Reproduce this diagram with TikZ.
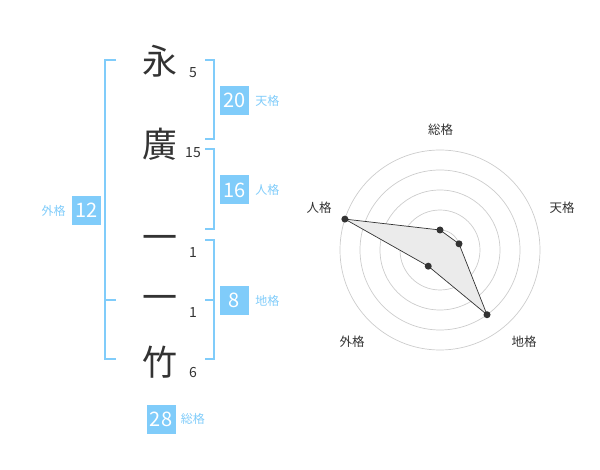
\documentclass[tikz,border=0pt]{standalone}
\usepackage{fontspec}
\setmainfont{Noto Sans CJK JP}
\usepackage{tikz}
\usetikzlibrary{positioning,calc}
\definecolor{kakublue}{RGB}{128,204,250}
\definecolor{inkgray}{RGB}{51,51,51}
\tikzstyle{kanji}=[text=inkgray, font=\fontsize{35}{35}\selectfont, inner sep=0pt]
\tikzstyle{strokes}=[text=inkgray, font=\fontsize{14}{14}\selectfont, inner sep=0pt]
\tikzstyle{kakubox}=[fill=kakublue, text=white, minimum size=29pt, inner sep=0pt, font=\fontsize{20}{20}\selectfont]
\tikzstyle{kakuname}=[text=kakublue, font=\fontsize{12}{12}\selectfont, inner sep=0pt]
\tikzstyle{bracket}=[kakublue, line width=2pt]
\tikzstyle{ring}=[black!20, line width=0.7pt]
\tikzstyle{axisname}=[text=inkgray, font=\fontsize{12.5}{12.5}\selectfont, inner sep=0pt]
\tikzstyle{dot}=[circle, fill=inkgray, minimum size=7pt, inner sep=0pt]

\begin{document}
\begin{tikzpicture}[x=1pt, y=-1pt]
\useasboundingbox (0,0) rectangle (600,470);

% name characters and stroke counts
        \node[kanji] (c1) at (160,61) {永};
        \node[kanji] (c2) at (160,144) {廣};
        \node[kanji] (c3) at (160,243) {一};
        \node[kanji] (c4) at (160,303) {一};
        \node[kanji] (c5) at (160,362) {竹};
        \node[strokes] (s1) at (193,73) {5};
        \node[strokes] (s2) at (193,153) {15};
        \node[strokes] (s3) at (193,253) {1};
        \node[strokes] (s4) at (193,313) {1};
        \node[strokes] (s5) at (193,373) {6};

        % brackets
        \draw[bracket] (116,60) -- (105,60) -- (105,359) -- (116,359);
        \draw[bracket] (105,300) -- (116,300);
        \draw[bracket] (205,60) -- (214,60) -- (214,139) -- (205,139);
        \draw[bracket] (205,149) -- (214,149) -- (214,229) -- (205,229);
        \draw[bracket] (205,240) -- (214,240) -- (214,359) -- (205,359);
        \draw[bracket] (205,300) -- (214,300);

        % totals
        \node[kakubox] (ten) at (234.5,100.5) {20};
        \node[kakuname, right=6pt of ten] (tenl) {天格};
        \node[kakubox] (jin) at (234.5,190) {16};
        \node[kakuname, right=6pt of jin] (jinl) {人格};
        \node[kakubox] (chi) at (234.5,300.5) {8};
        \node[kakuname, right=6pt of chi] (chil) {地格};
        \node[kakubox] (gai) at (86.5,210.5) {12};
        \node[kakuname, left=6pt of gai] (gail) {外格};
        \node[kakubox] (sou) at (161,419) {28};
        \node[kakuname, right=5pt of sou] (soul) {総格};

% radar chart
        \coordinate (ctr) at (440,250);
        \foreach \r in {20,40,60,80,100}
            \draw[ring] (ctr) circle (\r pt);
        \fill[black!20] (ctr) circle (4pt);

        \node[axisname] (asou) at (440.5,130) {総格};
        \node[axisname] (aten) at (562,208) {天格};
        \node[axisname] (ajin) at (319,208) {人格};
        \node[axisname] (agai) at (352,342) {外格};
        \node[axisname] (achi) at (524,342) {地格};

        \coordinate (psou) at ($(ctr)+(90:20pt)$);
        \coordinate (pten) at ($(ctr)+(18:20pt)$);
        \coordinate (pchi) at ($(ctr)+(-54:80pt)$);
        \coordinate (pgai) at ($(ctr)+(-126:20pt)$);
        \coordinate (pjin) at ($(ctr)+(162:100pt)$);

        \filldraw[fill=black!8, draw=inkgray, line width=0.7pt]
            (psou) -- (pten) -- (pchi) -- (pgai) -- (pjin) -- cycle;
        \foreach \p in {psou,pten,pchi,pgai,pjin}
            \node[dot] at (\p) {};

\end{tikzpicture}
\end{document}
